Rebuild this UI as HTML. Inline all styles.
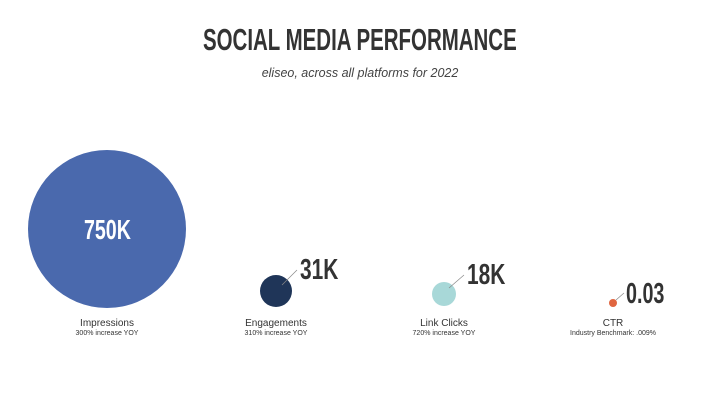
<!DOCTYPE html>
<html><head><style>
html,body{margin:0;padding:0;background:#fff;}
body{width:720px;height:405px;position:relative;overflow:hidden;font-family:"Liberation Sans",sans-serif;}
.t{position:absolute;white-space:nowrap;}
.big{font-weight:bold;color:#333;transform-origin:left top;}
.lab{font-size:10px;color:#333;transform:translateX(-50%);}
.sub{font-size:7px;color:#333;transform:translateX(-50%);}
</style></head><body>
<div class="t big" style="left:203px;top:22px;font-size:31px;transform:scaleX(0.66);">SOCIAL MEDIA PERFORMANCE</div>
<div class="t" style="left:0;width:720px;text-align:center;top:66px;font-size:12.5px;font-style:italic;color:#444;">eliseo, across all platforms for 2022</div>
<svg width="720" height="405" style="position:absolute;left:0;top:0">
<circle cx="107" cy="229" r="79" fill="#4a69ad"/>
<circle cx="276" cy="291" r="16" fill="#1f3558"/>
<circle cx="444" cy="294" r="12" fill="#a8d8d8"/>
<circle cx="613" cy="303" r="4" fill="#e06640"/>
<line x1="282" y1="285" x2="297" y2="270" stroke="#888" stroke-width="0.7"/>
<line x1="449" y1="288" x2="464" y2="275" stroke="#888" stroke-width="0.7"/>
<line x1="616" y1="300" x2="624" y2="293" stroke="#888" stroke-width="0.7"/>
</svg>
<div class="t big" style="left:84px;top:214px;font-size:28px;color:#fff;transform:scaleX(0.7);">750K</div>
<div class="t big" style="left:300px;top:254px;font-size:29px;transform:scaleX(0.72);">31K</div>
<div class="t big" style="left:467px;top:259px;font-size:29px;transform:scaleX(0.72);">18K</div>
<div class="t big" style="left:626px;top:278px;font-size:29px;transform:scaleX(0.68);">0.03</div>
<div class="t lab" style="left:107px;top:318px;">Impressions</div>
<div class="t sub" style="left:107px;top:330px;">300% increase YOY</div>
<div class="t lab" style="left:276px;top:318px;">Engagements</div>
<div class="t sub" style="left:276px;top:330px;">310% increase YOY</div>
<div class="t lab" style="left:444px;top:318px;">Link Clicks</div>
<div class="t sub" style="left:444px;top:330px;">720% increase YOY</div>
<div class="t lab" style="left:613px;top:318px;">CTR</div>
<div class="t sub" style="left:613px;top:330px;">Industry Benchmark: .009%</div>
</body></html>
